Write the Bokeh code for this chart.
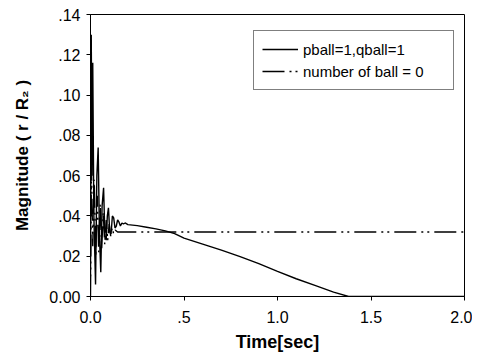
from bokeh.plotting import figure
from bokeh.models import FixedTicker, Legend, LegendItem, Range1d
from bokeh.embed import file_html
from bokeh.resources import INLINE

# Series 1: pball=1,qball=1
t1 = [0.000, 0.004, 0.008, 0.012, 0.018, 0.027, 0.034, 0.041, 0.048, 0.055,
      0.062, 0.070, 0.077, 0.084, 0.090, 0.096, 0.103, 0.110, 0.117, 0.124,
      0.131, 0.138, 0.145, 0.152, 0.160, 0.168, 0.176, 0.185, 0.20, 0.25,
      0.30, 0.35, 0.40, 0.45, 0.50, 0.60, 0.70, 0.80, 0.90, 1.00,
      1.10, 1.20, 1.30, 1.38, 2.00]
y1 = [0.010, 0.130, 0.060, 0.116, 0.040, 0.006, 0.060, 0.074, 0.030, 0.012,
      0.045, 0.054, 0.030, 0.028, 0.040, 0.044, 0.032, 0.031, 0.040, 0.039,
      0.034, 0.035, 0.038, 0.037, 0.035, 0.0365, 0.036, 0.0365, 0.0357, 0.0352,
      0.0344, 0.0336, 0.0326, 0.0312, 0.0290, 0.0260, 0.0230, 0.0198, 0.0163, 0.0125,
      0.0088, 0.0055, 0.0022, 0.0, 0.0]

# Series 2: number of ball = 0
t2 = [0.000, 0.005, 0.012, 0.020, 0.028, 0.036, 0.044, 0.052, 0.060, 0.068,
      0.076, 0.084, 0.092, 0.100, 0.108, 0.116, 0.124, 0.132, 0.145, 2.00]
y2 = [0.000, 0.064, 0.025, 0.058, 0.020, 0.050, 0.022, 0.046, 0.024, 0.042,
      0.026, 0.038, 0.028, 0.036, 0.030, 0.034, 0.031, 0.033, 0.032, 0.032]

x_ticks = [0.0, 0.5, 1.0, 1.5, 2.0]
x_labels = ["0.0", ".5", "1.0", "1.5", "2.0"]
y_ticks = [0.0, 0.02, 0.04, 0.06, 0.08, 0.10, 0.12, 0.14]
y_labels = ["0.00", ".02", ".04", ".06", ".08", ".10", ".12", ".14"]

FONT = "Liberation Sans"

p = figure(width=472, height=355, output_backend="svg", toolbar_location=None,
           x_range=Range1d(0, 2.0), y_range=Range1d(0, 0.14),
           min_border_left=90, min_border_right=8, min_border_top=14,
           min_border_bottom=59)
p.background_fill_color = "white"
p.border_fill_color = "white"
p.outline_line_color = "black"
p.outline_line_width = 1
p.xgrid.visible = False
p.ygrid.visible = False

r1 = p.line(t1, y1, line_color="black", line_width=1.4)
r2 = p.line(t2, y2, line_color="black", line_width=1.4, line_dash="22 5 2 4 2 5")

p.xaxis.ticker = FixedTicker(ticks=x_ticks)
p.xaxis.major_label_overrides = {t: l for t, l in zip(x_ticks, x_labels)}
p.yaxis.ticker = FixedTicker(ticks=y_ticks)
p.yaxis.major_label_overrides = {t: l for t, l in zip(y_ticks, y_labels)}

for ax in (p.xaxis, p.yaxis):
    ax.axis_line_color = "black"
    ax.major_tick_line_color = "black"
    ax.major_tick_out = 4
    ax.major_tick_in = 0
    ax.minor_tick_line_color = None
    ax.major_label_text_font = FONT
    ax.major_label_text_font_size = "16px"
    ax.major_label_text_color = "black"
    ax.axis_label_text_font = FONT
    ax.axis_label_text_font_style = "bold"
    ax.axis_label_text_color = "black"

p.xaxis.axis_label = "Time[sec]"
p.yaxis.axis_label = "Magnitude ( r / R₂ )"
p.xaxis.axis_label_text_font_size = "18px"
p.yaxis.axis_label_text_font_size = "17px"
p.xaxis.major_label_standoff = 10
p.xaxis.axis_label_standoff = 6
p.yaxis.major_label_standoff = 6
p.yaxis.axis_label_standoff = 14

legend = Legend(items=[LegendItem(label="pball=1,qball=1", renderers=[r1]),
                       LegendItem(label="number of ball = 0", renderers=[r2])],
                location=(163, 206))
legend.label_text_font = FONT
legend.label_text_font_size = "15px"
legend.label_text_color = "black"
legend.glyph_width = 36
legend.glyph_height = 20
legend.label_height = 20
legend.label_width = 142
legend.spacing = 2
legend.padding = 8
legend.margin = 0
legend.border_line_color = "black"
legend.border_line_width = 1
legend.background_fill_alpha = 1
p.add_layout(legend, "center")

open("out.html", "w").write(file_html(p, INLINE))
